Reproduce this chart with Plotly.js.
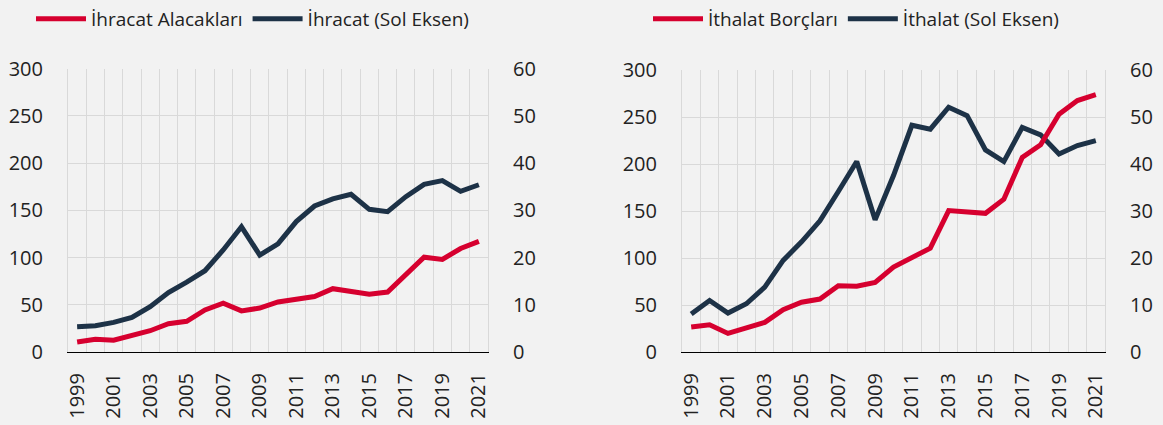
<!DOCTYPE html>
<html><head><meta charset="utf-8">
<script src="https://cdn.plot.ly/plotly-3.0.1.min.js"></script>
<style>html,body{margin:0;padding:0;background:#f2f2f2}</style>
</head><body><div id="chart" style="width:1163px;height:425px"></div>
<script>
const years = [1999,2000,2001,2002,2003,2004,2005,2006,2007,2008,2009,2010,2011,2012,2013,2014,2015,2016,2017,2018,2019,2020,2021];
const tickYears = [1999,2001,2003,2005,2007,2009,2011,2013,2015,2017,2019,2021];
const tickLabels = ["1999","2001","2003","2005","2007","2009","2011","2013","2015","2017","2019","2021"];
// Left panel
const ihracat = [26.7,27.8,31.3,36.5,48,63,74,86,108,132.5,102.5,114.4,138,154.5,162,166.9,151,148.5,164.4,177.4,181.3,170,177];
const ihracatAlacak = [2.1,2.7,2.5,3.4,4.5,6.0,6.5,8.9,10.35,8.7,9.3,10.6,11.05,11.75,13.4,12.95,12.25,12.7,16.5,20.06,19.6,21.9,23.4];
// Right panel
const ithalat = [40.4,54.8,41.4,51.3,69,97.4,117.2,139.5,170.7,202.6,140.6,187.7,241.2,237,260.4,251.4,215,202.6,239,231,210.7,219.6,224.9];
const ithalatBorc = [5.3,5.8,3.96,5.1,6.3,9,10.6,11.26,14.1,14.0,14.8,18.07,20.1,22.1,30.1,29.7,29.5,32.5,41.4,44.1,50.6,53.5,54.75];

const RED = '#d6002f', NAVY = '#1d3247';
const FONT = 'Open Sans, Noto Sans, sans-serif';
const TXT = '#222222';
const GRID = '#d9d9d9';

const traces = [
  {x: years, y: ihracat, name: 'İhracat (Sol Eksen)', type: 'scatter', mode: 'lines', line: {color: NAVY, width: 5}, xaxis: 'x', yaxis: 'y', legend: 'legend', legendrank: 2},
  {x: years, y: ihracatAlacak, name: 'İhracat Alacakları', type: 'scatter', mode: 'lines', line: {color: RED, width: 5}, xaxis: 'x', yaxis: 'y2', legend: 'legend', legendrank: 1},
  {x: years, y: ithalat, name: 'İthalat (Sol Eksen)', type: 'scatter', mode: 'lines', line: {color: NAVY, width: 5}, xaxis: 'x2', yaxis: 'y3', legend: 'legend2', legendrank: 2},
  {x: years, y: ithalatBorc, name: 'İthalat Borçları', type: 'scatter', mode: 'lines', line: {color: RED, width: 5}, xaxis: 'x2', yaxis: 'y4', legend: 'legend2', legendrank: 1}
];

function xax(domain, anchor) {
  return {
    domain: domain, anchor: anchor, type: 'linear', range: [1998.5, 2021.5],
    tickmode: 'array', tickvals: tickYears, ticktext: tickLabels, tickangle: -90,
    showgrid: false, zeroline: false, showline: true, linecolor: '#000', linewidth: 1,
    ticks: '', ticklabelstandoff: 12,
    tickfont: {family: FONT, size: 20, color: TXT},
    minor: {tick0: 1998.5, dtick: 1, showgrid: true, gridcolor: GRID, gridwidth: 1, ticks: ''}
  };
}
function yax(domain, anchor, range, dtick, side, overlay) {
  const a = {
    domain: domain, anchor: anchor, range: range, dtick: dtick, side: side,
    showgrid: !overlay, gridcolor: GRID, gridwidth: 1, zeroline: false,
    showline: true, linecolor: GRID, linewidth: 1,
    ticks: '', ticklabelstandoff: 20,
    tickfont: {family: FONT, size: 20, color: TXT}
  };
  if (overlay) a.overlaying = overlay;
  return a;
}

const layout = {
  width: 1163, height: 425,
  margin: {l: 0, r: 0, t: 0, b: 0},
  paper_bgcolor: '#f2f2f2', plot_bgcolor: '#f2f2f2',
  font: {family: FONT, color: TXT},
  showlegend: true,
  xaxis: xax([68/1163, 488/1163], 'y'),
  yaxis: yax([1-352/425, 1-68.5/425], 'x', [0, 300], 50, 'left'),
  yaxis2: yax([1-352/425, 1-68.5/425], 'x', [0, 60], 10, 'right', 'y'),
  xaxis2: xax([682/1163, 1105/1163], 'y3'),
  yaxis3: yax([1-352/425, 1-70/425], 'x2', [0, 300], 50, 'left'),
  yaxis4: yax([1-352/425, 1-70/425], 'x2', [0, 60], 10, 'right', 'y3'),
  legend: {orientation: 'h', x: 31/1163, xanchor: 'left', y: 1, yanchor: 'top', bgcolor: 'rgba(0,0,0,0)',
           font: {family: FONT, size: 19, color: TXT}, traceorder: 'normal', itemwidth: 50},
  legend2: {orientation: 'h', x: 648/1163, xanchor: 'left', y: 1, yanchor: 'top', bgcolor: 'rgba(0,0,0,0)',
           font: {family: FONT, size: 19, color: TXT}, traceorder: 'normal', itemwidth: 50}
};

Plotly.newPlot('chart', traces, layout, {displayModeBar: false, staticPlot: true});
</script></body></html>
